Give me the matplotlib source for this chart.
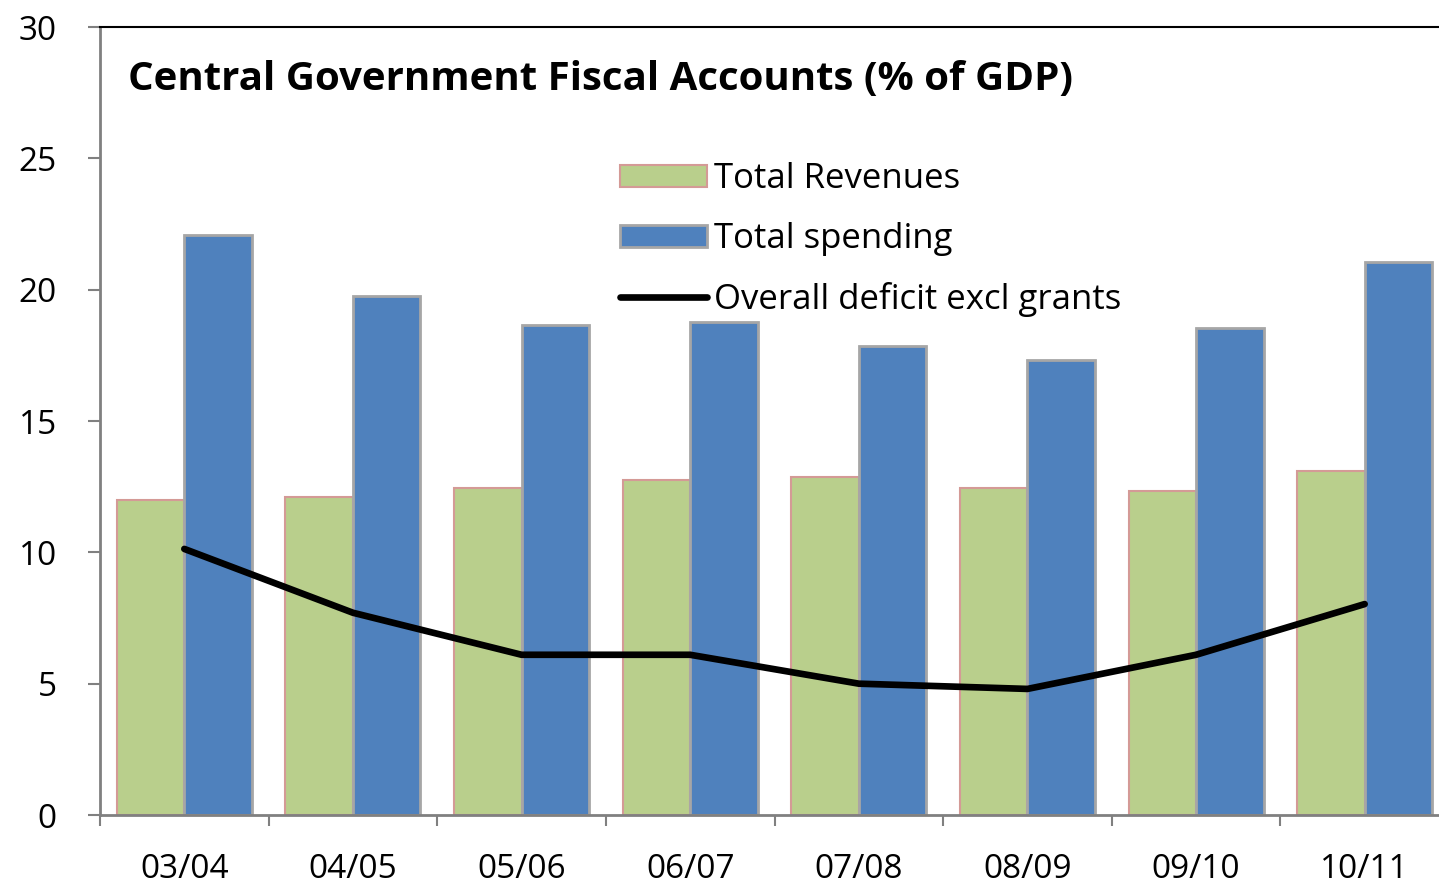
import matplotlib
matplotlib.use("Agg")
import matplotlib.pyplot as plt
import numpy as np

categories = ["03/04", "04/05", "05/06", "06/07", "07/08", "08/09", "09/10", "10/11"]
revenues = [12.0, 12.1, 12.45, 12.75, 12.87, 12.45, 12.33, 13.1]
spending = [22.08, 19.76, 18.65, 18.77, 17.85, 17.32, 18.54, 21.05]
deficit = [10.13, 7.7, 6.1, 6.1, 5.0, 4.8, 6.1, 8.03]
yticks = [0, 5, 10, 15, 20, 25, 30]

plt.rcParams['font.family'] = ['Open Sans', 'DejaVu Sans']
fig = plt.figure(figsize=(14.39, 8.86), dpi=100)
ax = fig.add_axes([100/1439, 1-815/886, 1349/1439, (815-27)/886])

x = np.arange(len(categories))
w = 0.4
h1 = ax.bar(x - w/2, revenues, width=w, color='#B9CF8C', edgecolor='#D49A96', linewidth=1.5,
            label='Total Revenues', zorder=2)
h2 = ax.bar(x + w/2, spending, width=w, color='#4F81BD', edgecolor='#A6A6A6', linewidth=2,
            label='Total spending', zorder=2)
h3, = ax.plot(x, deficit, color='black', linewidth=4.8, solid_capstyle='round',
              solid_joinstyle='round', label='Overall deficit excl grants', zorder=3)

ax.set_xlim(-0.5, len(categories) - 0.5)
ax.set_ylim(0, 30)
ax.set_yticks(yticks)
ax.set_yticklabels([str(v) for v in yticks], fontsize=24)
ax.tick_params(axis='y', length=9, width=1.5, color='#808080', pad=22)

ax.set_xticks(x)
ax.set_xticklabels(categories, fontsize=24)
ax.set_xticks(np.arange(len(categories) + 1) - 0.5, minor=True)
ax.tick_params(axis='x', which='major', length=0, pad=27)
ax.tick_params(axis='x', which='minor', length=8, width=1.5, color='#808080', direction='out')

for s in ['left', 'bottom']:
    ax.spines[s].set_color('#808080')
    ax.spines[s].set_linewidth(2)
ax.spines['top'].set_color('black')
ax.spines['top'].set_linewidth(1.5)
ax.spines['right'].set_visible(False)

fig.text(128/1439, 1-80/886, 'Central Government Fiscal Accounts (% of GDP)',
         fontsize=29, fontweight='bold', ha='left', va='center')

leg = ax.legend(handles=[h1, h2, h3], loc='upper left', bbox_to_anchor=(620/1439, 1-162/886),
                bbox_transform=fig.transFigure, frameon=False, fontsize=25,
                handlelength=2.5, handleheight=0.6, handletextpad=0.2,
                labelspacing=0.75, borderaxespad=0, borderpad=0)

fig.savefig('out.png', dpi=100)
